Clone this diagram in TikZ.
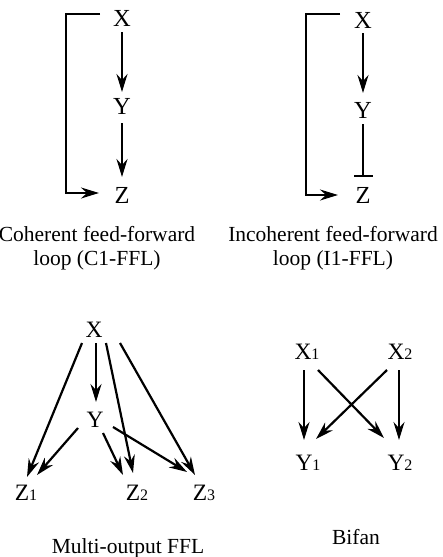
\documentclass[tikz,border=0pt]{standalone}
\usepackage{fontspec}
\setmainfont{Liberation Serif}
\usetikzlibrary{arrows.meta}
\tikzset{
  lbl/.style={inner sep=0pt, anchor=center, font=\fontsize{24.5}{24.5}\selectfont},
  lbls/.style={inner sep=0pt, anchor=center, font=\fontsize{23.5}{23.5}\selectfont},
  captext/.style={inner sep=0pt, align=center, font=\fontsize{21.5}{24}\selectfont},
  con/.style={line width=2.2pt, -{Stealth[length=18pt,width=11pt,inset=6pt]}},
  inh/.style={line width=2.2pt, -{Bar[width=19pt,line width=2.2pt]}}
}
\newcommand{\subd}[1]{\rlap{\fontsize{16}{16}\selectfont #1}}
\begin{document}
\begin{tikzpicture}[x=1pt,y=-1pt]
\useasboundingbox (0,0) rectangle (443,557);
% Panel 1
\node[lbl] (aX) at (122,18) {X};
\node[lbl] (aY) at (122,106) {Y};
\node[lbl] (aZ) at (122,195) {Z};
\draw[con] ([shift={(0,14)}]aX.center) -- ([shift={(0,-14)}]aY.center);
\draw[con] ([shift={(0,17)}]aY.center) -- ([shift={(0,-18)}]aZ.center);
\draw[con] ([shift={(-22,-4)}]aX.center) -- ++(-34,0) |- ([shift={(-23,-2)}]aZ.center);
\node[captext] (acap) at (97,248) {Coherent feed-forward\\loop (C1-FFL)};
% Panel 2
\node[lbl] (bX) at (363,20) {X};
\node[lbl] (bY) at (363,110) {Y};
\node[lbl] (bZ) at (363,195) {Z};
\draw[con] ([shift={(0,13)}]bX.center) -- ([shift={(0,-17)}]bY.center);
\draw[inh] ([shift={(0,14)}]bY.center) -- ([shift={(0,-18)}]bZ.center);
\draw[con] ([shift={(-23,-6)}]bX.center) -- ++(-34,0) |- ([shift={(-25,0)}]bZ.center);
\node[captext] (bcap) at (333,248) {Incoherent feed-forward\\loop (I1-FFL)};
% Panel 3
\node[lbls] (cX) at (94,330) {X};
\node[lbls] (cY) at (95,420) {Y};
\node[lbls] (cZa) at (22,493) {Z\subd{1}};
\node[lbls] (cZb) at (133,493) {Z\subd{2}};
\node[lbls] (cZc) at (200,493) {Z\subd{3}};
\draw[con] ([shift={(-12,13)}]cX.center) -- ([shift={(5,-16)}]cZa.center);
\draw[con] ([shift={(2,13)}]cX.center) -- ([shift={(1,-18)}]cY.center);
\draw[con] ([shift={(12,13)}]cX.center) -- ([shift={(0,-20)}]cZb.center);
\draw[con] ([shift={(26,13)}]cX.center) -- ([shift={(-5,-18)}]cZc.center);
\draw[con] ([shift={(-17,8)}]cY.center) -- ([shift={(15,-18)}]cZa.center);
\draw[con] ([shift={(8,13)}]cY.center) -- ([shift={(-10,-18)}]cZb.center);
\draw[con] ([shift={(18,7)}]cY.center) -- ([shift={(-13,-21)}]cZc.center);
\node[captext] (ccap) at (128,548) {Multi-output FFL};
% Panel 4
\node[lbls] (dXa) at (303,352) {X\subd{1}};
\node[lbls] (dXb) at (396,352) {X\subd{2}};
\node[lbls] (dYa) at (304,463) {Y\subd{1}};
\node[lbls] (dYb) at (396,463) {Y\subd{2}};
\draw[con] ([shift={(1,18)}]dXa.center) -- ([shift={(0,-23)}]dYa.center);
\draw[con] ([shift={(3,18)}]dXb.center) -- ([shift={(3,-23)}]dYb.center);
\draw[con] ([shift={(15,18)}]dXa.center) -- ([shift={(-12,-25)}]dYb.center);
\draw[con] ([shift={(-9,18)}]dXb.center) -- ([shift={(12,-24)}]dYa.center);
\node[captext] (dcap) at (356,537) {Bifan};
\end{tikzpicture}
\end{document}
